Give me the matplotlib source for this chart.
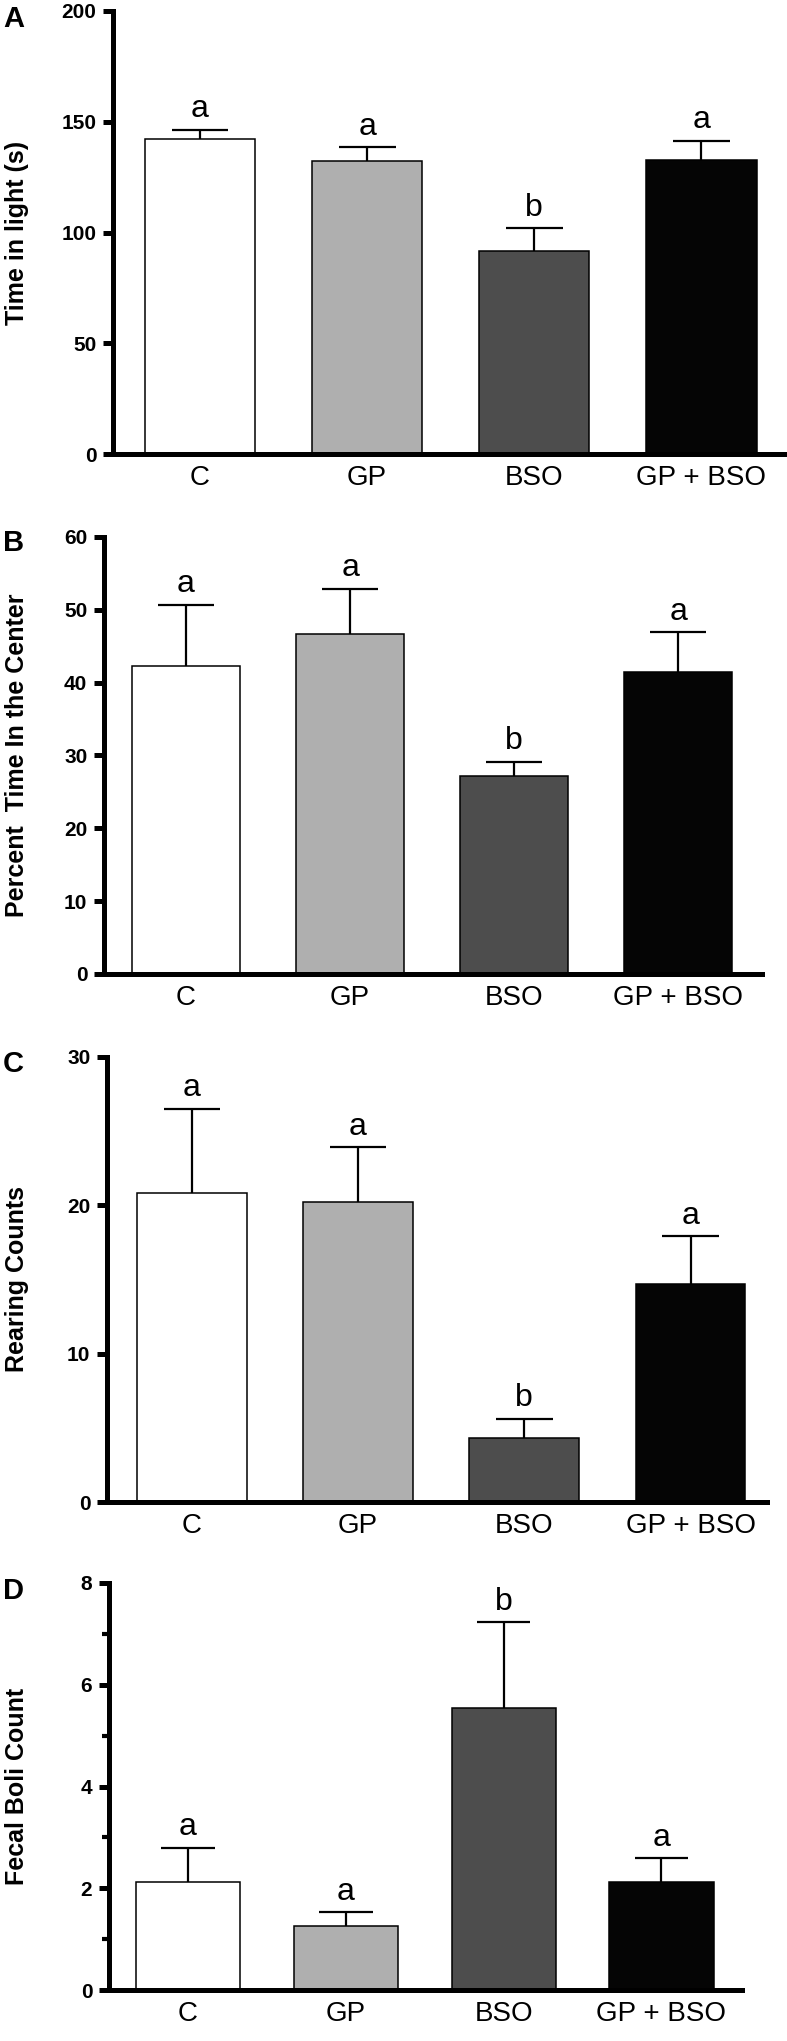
import matplotlib
matplotlib.use("Agg")
import matplotlib.pyplot as plt
import matplotlib.transforms as mtransforms
from matplotlib.ticker import MultipleLocator

plt.rcParams['font.family'] = ['Liberation Sans', 'DejaVu Sans']

# ---------------- data ----------------
groups = ["C", "GP", "BSO", "GP + BSO"]
bar_colors = ["#ffffff", "#afafaf", "#4d4d4d", "#050505"]

time_light_mean = [142.4, 132.5, 91.6, 132.9]
time_light_sem = [4.1, 5.9, 10.4, 8.5]
time_light_sig = ["a", "a", "b", "a"]

center_mean = [42.3, 46.7, 27.2, 41.5]
center_sem = [8.4, 6.2, 1.9, 5.4]
center_sig = ["a", "a", "b", "a"]

rearing_mean = [20.8, 20.2, 4.3, 14.7]
rearing_sem = [5.7, 3.7, 1.3, 3.2]
rearing_sig = ["a", "a", "b", "a"]

boli_mean = [2.13, 1.26, 5.55, 2.13]
boli_sem = [0.67, 0.27, 1.68, 0.46]
boli_sig = ["a", "a", "b", "a"]

W, H = 787, 2041
fig = plt.figure(figsize=(W / 100, H / 100), dpi=100)

panels = [
    dict(letter="A", mean=time_light_mean, sem=time_light_sem, sig=time_light_sig,
         ylabel="Time in light (s)", ymax=200, major=50, minor=None,
         box=(113, 785, 11, 454), xlim=(-0.52, 3.50), letter_y=5),
    dict(letter="B", mean=center_mean, sem=center_sem, sig=center_sig,
         ylabel="Percent  Time In the Center", ymax=60, major=10, minor=None,
         box=(104, 762, 537, 974), xlim=(-0.50, 3.51), letter_y=529),
    dict(letter="C", mean=rearing_mean, sem=rearing_sem, sig=rearing_sig,
         ylabel="Rearing Counts", ymax=30, major=10, minor=None,
         box=(107, 767, 1057, 1502), xlim=(-0.51, 3.46), letter_y=1050),
    dict(letter="D", mean=boli_mean, sem=boli_sem, sig=boli_sig,
         ylabel="Fecal Boli Count", ymax=8, major=2, minor=1,
         box=(109, 742, 1583, 1990), xlim=(-0.50, 3.51), letter_y=1577),
]

bar_w = 0.66
cap_w = 0.34
for p in panels:
    l, r, t, b = p["box"]
    ax = fig.add_axes([l / W, 1 - b / H, (r - l) / W, (b - t) / H])
    x = list(range(len(groups)))
    tops = [m + s for m, s in zip(p["mean"], p["sem"])]
    ax.vlines(x, p["mean"], tops, color="black", lw=1.6, zorder=1)
    ax.hlines(tops, [xi - cap_w / 2 for xi in x], [xi + cap_w / 2 for xi in x],
              color="black", lw=1.6, zorder=1)
    ax.bar(x, p["mean"], width=bar_w, color=bar_colors, edgecolor="black",
           linewidth=1.1, zorder=2)
    for xi, tp, s in zip(x, tops, p["sig"]):
        ax.annotate(s, (xi, tp), xytext=(0, 4), textcoords="offset points",
                    ha="center", va="bottom", fontsize=23)
    ax.set_xlim(*p["xlim"])
    ax.set_ylim(0, p["ymax"])
    ax.yaxis.set_major_locator(MultipleLocator(p["major"]))
    if p["minor"]:
        ax.yaxis.set_minor_locator(MultipleLocator(p["minor"]))
        ax.tick_params(axis="y", which="minor", length=5, width=3.0)
    ax.set_xticks(x)
    ax.set_xticklabels(groups, fontsize=20)
    ax.tick_params(axis="x", length=0, pad=8)
    ax.tick_params(axis="y", which="major", length=7, width=3.6, pad=5,
                   labelsize=15)
    for lab in ax.get_yticklabels():
        lab.set_fontweight("bold")
    for side in ("top", "right"):
        ax.spines[side].set_visible(False)
    for side in ("left", "bottom"):
        ax.spines[side].set_linewidth(3.6)
    ax.set_ylabel(p["ylabel"], fontsize=18, fontweight="bold")
    trans = mtransforms.blended_transform_factory(fig.transFigure, ax.transAxes)
    ax.yaxis.set_label_coords(29 / W, 0.5, transform=trans)
    fig.text(3 / W, 1 - p["letter_y"] / H, p["letter"], fontsize=21,
             fontweight="bold", ha="left", va="top")

fig.savefig("out.png", dpi=100)
